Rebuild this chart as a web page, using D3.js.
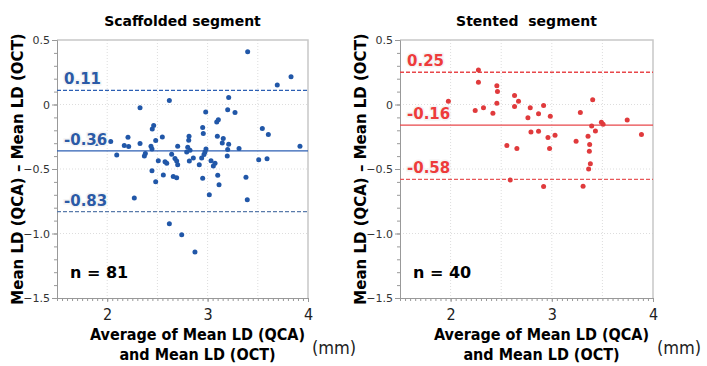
<!DOCTYPE html>
<html>
<head>
<meta charset="utf-8">
<script src="https://cdn.jsdelivr.net/npm/d3@7"></script>
<style>
  body { margin: 0; background: #fff; }
  svg { display: block; }
  .tick text { fill: #333; }
</style>
</head>
<body>
<div id="chart"></div>
<script>
// Bland-Altman data: x = average, y = difference
let scaffoldX = [2.327, 1.895, 2.035, 2.095, 2.170, 2.207, 2.214, 2.327, 2.370, 2.380,
  2.436, 2.446, 2.449, 2.463, 2.483, 2.446, 2.483, 2.509, 2.549, 2.559,
  2.576, 2.593, 2.619, 2.642, 2.658, 2.675, 2.692, 2.692, 2.702, 2.702,
  2.792, 2.802, 2.812, 2.815, 2.818, 2.825, 2.858, 2.917, 2.951, 2.957,
  2.951, 2.941, 2.964, 2.974, 2.984, 2.981, 3.034, 3.057, 3.074, 3.091,
  3.107, 3.097, 3.101, 3.114, 3.146, 3.156, 3.196, 3.200, 3.200, 3.210,
  3.210, 3.273, 3.313, 3.399, 3.545, 3.605, 3.509, 3.592, 3.382, 3.694,
  3.831, 3.920, 2.270, 3.017, 2.619, 2.742, 2.874, 3.395];
let scaffoldY = [-0.025, -0.302, -0.287, -0.392, -0.318, -0.254, -0.325, -0.302, -0.400, -0.379,
  -0.323, -0.344, -0.190, -0.162, -0.279, -0.513, -0.598, -0.436, -0.252, -0.546,
  -0.444, -0.456, 0.031, -0.385, -0.559, -0.418, -0.567, -0.438, -0.323, -0.467,
  -0.369, -0.331, -0.277, -0.246, -0.438, -0.354, -0.415, -0.467, -0.179, -0.225,
  -0.572, -0.415, -0.387, -0.369, -0.344, -0.059, -0.436, -0.477, -0.456, -0.136,
  -0.118, -0.246, -0.548, -0.623, -0.298, -0.264, -0.400, -0.348, -0.041, -0.308,
  0.054, -0.062, -0.341, 0.408, -0.187, -0.233, -0.428, -0.421, -0.564, 0.152,
  0.215, -0.323, -0.725, -0.700, -0.925, -1.010, -1.144, -0.738];

let stentX = [1.978, 2.275, 2.275, 2.243, 2.325, 2.418, 2.457, 2.463, 2.457, 2.556,
  2.589, 2.632, 2.671, 2.632, 2.655, 2.787, 2.764, 2.794, 2.869, 2.869,
  2.919, 2.985, 2.962, 3.032, 2.978, 2.919, 3.240, 3.282, 3.404, 3.394,
  3.431, 3.358, 3.374, 3.371, 3.381, 3.364, 3.309, 3.490, 3.507, 3.745, 3.886];
let stentY = [0.025, 0.267, 0.172, -0.046, -0.025, -0.067, 0.146, 0.100, 0.010, -0.318,
  -0.585, 0.069, 0.025, -0.015, -0.341, -0.025, -0.102, -0.213, -0.072, -0.208,
  -0.008, -0.092, -0.256, -0.238, -0.341, -0.636, -0.285, -0.062, 0.036, -0.167,
  -0.205, -0.246, -0.310, -0.362, -0.459, -0.500, -0.633, -0.138, -0.154, -0.121, -0.233];

// bias and limits of agreement: [upper, mean, lower]
let scaffoldLines = [0.11, -0.36, -0.83];
let stentLines = [0.25, -0.16, -0.58];

let titles = ["Scaffolded segment", "Stented  segment"];
let counts = ["n = 81", "n = 40"];
let xTicks = [2, 3, 4];
let yTicks = [-1.5, -1, -0.5, 0, 0.5];

const svg = d3.select("#chart").append("svg")
  .attr("width", 707).attr("height", 366);

function panel(opt) {
  let x = d3.scaleLinear().domain([1.5, 4]).range([opt.left, opt.right]);
  let y = d3.scaleLinear().domain([-1.5, 0.5]).range([298, 40]);
  let g = svg.append("g");

  // grid
  g.append("g").selectAll("line").data([2, 2.5, 3, 3.5]).join("line")
    .attr("x1", d => x(d)).attr("x2", d => x(d))
    .attr("y1", y(0.5)).attr("y2", y(-1.5))
    .attr("stroke", "#ddd").attr("stroke-dasharray", "1,2");
  g.append("g").selectAll("line").data([0, -0.5, -1]).join("line")
    .attr("x1", x(1.5)).attr("x2", x(4))
    .attr("y1", d => y(d)).attr("y2", d => y(d))
    .attr("stroke", "#ddd").attr("stroke-dasharray", "1,2");

  // frame top/right
  g.append("path")
    .attr("d", `M${x(1.5)},${y(0.5)}H${x(4)}V${y(-1.5)}`)
    .attr("fill", "none").attr("stroke", "#c8c8c8").attr("stroke-width", 1.5);

  // y axis
  let minorY = d3.range(-15, 6).map(d => d / 10);
  g.append("g").attr("transform", `translate(${x(1.5)},0)`)
    .call(d3.axisLeft(y).tickValues(minorY).tickSize(3).tickFormat(""))
    .call(a => a.select(".domain").remove())
    .selectAll("line").attr("stroke", "#999");
  g.append("g").attr("transform", `translate(${x(1.5)},0)`)
    .call(d3.axisLeft(y).tickValues(yTicks).tickSize(5).tickPadding(2)
      .tickFormat(d => d === 0 ? "0" : d3.format(".1f")(d)))
    .call(a => a.select(".domain").attr("stroke", "#999"))
    .call(a => a.selectAll("line").attr("stroke", "#999"))
    .selectAll("text").attr("font-family", "DejaVu Sans").attr("font-size", 11);

  // x axis
  let minorX = d3.range(30, 81).map(d => d / 20);
  g.append("g").attr("transform", `translate(0,${y(-1.5)})`)
    .call(d3.axisBottom(x).tickValues(minorX).tickSize(3).tickFormat(""))
    .call(a => a.select(".domain").attr("stroke", "#999"))
    .selectAll("line").attr("stroke", "#999");
  g.append("g").attr("transform", `translate(0,${y(-1.5)})`)
    .call(d3.axisBottom(x).tickValues(xTicks).tickSize(4).tickPadding(7)
      .tickFormat(d3.format("d")))
    .call(a => a.select(".domain").remove())
    .call(a => a.selectAll("line").attr("stroke", "#999"))
    .selectAll("text").attr("font-family", "DejaVu Sans Condensed")
    .attr("font-size", 16).style("fill", "#222");

  // reference lines
  g.append("g").selectAll("line").data(opt.lines).join("line")
    .attr("x1", x(1.5)).attr("x2", x(4))
    .attr("y1", d => y(d)).attr("y2", d => y(d))
    .attr("stroke", (d, i) => i == 2 ? opt.lowColor : opt.color)
    .attr("stroke-width", 1.3)
    .attr("stroke-dasharray", (d, i) => i == 1 ? null : "4,2");

  // points
  g.append("g").selectAll("circle").data(opt.xs).join("circle")
    .attr("cx", d => x(d)).attr("cy", (d, i) => y(opt.ys[i]))
    .attr("r", 2.5).attr("fill", opt.dot);

  // line labels (plain hyphen, as in the source)
  g.append("g").selectAll("text").data(opt.lines).join("text")
    .attr("x", x(1.5) + 7).attr("y", d => y(d) - 6)
    .attr("font-family", "DejaVu Sans").attr("font-weight", "bold")
    .attr("font-size", 15).attr("fill", opt.label)
    .attr("stroke", "#f4f4f4").attr("stroke-width", 3).attr("paint-order", "stroke")
    .text(d => d.toFixed(2));

  // n label
  g.append("text").attr("x", x(1.5) + 13).attr("y", 278)
    .attr("font-family", "DejaVu Sans").attr("font-weight", "bold")
    .attr("font-size", 16).text(opt.count);

  // title
  g.append("text").attr("x", (opt.left + opt.right) / 2).attr("y", 26)
    .attr("text-anchor", "middle").attr("font-family", "DejaVu Sans")
    .attr("font-weight", "bold").attr("font-size", 14)
    .attr("xml:space", "preserve").style("white-space", "pre")
    .text(opt.title);

  // y title
  g.append("text")
    .attr("transform", `translate(${opt.left - 34},${169}) rotate(-90)`)
    .attr("text-anchor", "middle").attr("font-family", "DejaVu Sans")
    .attr("font-weight", "bold").attr("font-size", 15)
    .text("Mean LD (QCA) \u2013 Mean LD (OCT)");

  // x title
  let cx = (opt.left + opt.right) / 2 + 15;
  let xt = g.append("text").attr("text-anchor", "middle")
    .attr("font-family", "DejaVu Sans Condensed").attr("font-weight", "bold")
    .attr("font-size", 16);
  xt.append("tspan").attr("x", cx).attr("y", 340).text("Average of Mean LD (QCA)");
  xt.append("tspan").attr("x", cx).attr("y", 360).text("and Mean LD (OCT)");
  g.append("text").attr("x", opt.right + 4).attr("y", 354)
    .attr("font-family", "DejaVu Sans Condensed").attr("font-size", 18)
    .attr("fill", "#222").text("(mm)");
}

panel({ left: 57, right: 308, xs: scaffoldX, ys: scaffoldY, lines: scaffoldLines,
  color: "#2c5fb3", lowColor: "#5a7bab", dot: "#2157a8", label: "#2b5aa6",
  count: counts[0], title: titles[0] });
panel({ left: 400, right: 653, xs: stentX, ys: stentY, lines: stentLines,
  color: "#e8474a", lowColor: "#e8585a", dot: "#e03a3c", label: "#ee3b3b",
  count: counts[1], title: titles[1] });
</script>
</body>
</html>
